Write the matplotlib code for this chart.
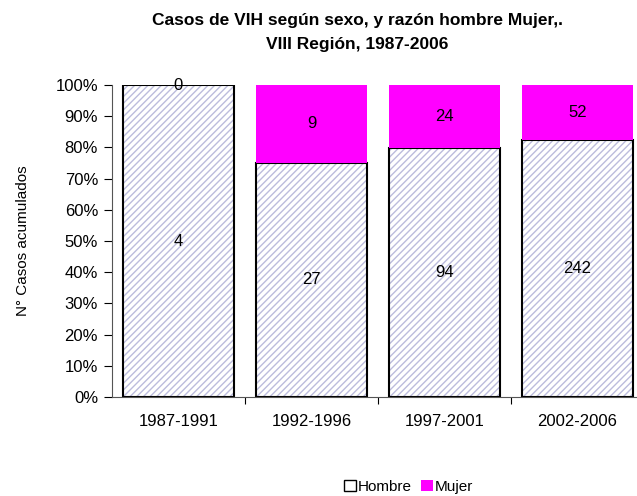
import numpy as np
import matplotlib.pyplot as plt
import matplotlib as mpl

plt.rcParams['font.family'] = ['Liberation Sans', 'DejaVu Sans']
mpl.rcParams['hatch.linewidth'] = 1.0

periodos = ['1987-1991', '1992-1996', '1997-2001', '2002-2006']
hombre = np.array([4, 27, 94, 242])
mujer = np.array([0, 9, 24, 52])

total = hombre + mujer
p_h = hombre / total * 100
p_m = mujer / total * 100

fig = plt.figure(figsize=(6.37, 4.96), dpi=100)
ax = fig.add_axes([112/637, 1-397/496, 532/637, 312/496])

x = np.arange(len(periodos))
w = 0.84
# hatch fill, then black outline on top
ax.bar(x, p_h, w, color='white', edgecolor='#bcbcdc', linewidth=0, hatch='/////')
ax.bar(x, p_h, w, color='none', edgecolor='black', linewidth=1.5)
ax.bar(x, p_m, w, bottom=p_h, color='#ff00ff', edgecolor='none')

for i in range(len(x)):
    ax.text(x[i], p_h[i]/2, str(hombre[i]), ha='center', va='center', fontsize=12)
    ax.text(x[i], p_h[i] + p_m[i]/2, str(mujer[i]), ha='center', va='center', fontsize=12)

ax.set_xlim(-0.5, len(x) - 0.5)
ax.set_ylim(0, 100)
ax.set_yticks(np.arange(0, 101, 10))
ax.set_yticklabels([f'{v}%' for v in range(0, 101, 10)], fontsize=12)
ax.set_xticks(x[:-1] + 0.5)
ax.set_xticklabels([])
ax.set_xticks(x, minor=True)
ax.set_xticklabels(periodos, minor=True, fontsize=12)
ax.tick_params(axis='x', which='minor', length=0, pad=12)
ax.tick_params(axis='x', which='major', length=5)
ax.tick_params(axis='y', length=6, pad=4)
ax.spines['top'].set_visible(False)
ax.spines['right'].set_visible(False)
ax.spines['left'].set_color('#555555')
ax.spines['bottom'].set_color('#555555')
ax.set_ylabel('N° Casos acumulados', fontsize=11, labelpad=18)

fig.text(357/637, 1-21/496, 'Casos de VIH según sexo, y razón hombre Mujer,.',
         ha='center', va='center', fontsize=12.5, fontweight='bold')
fig.text(357/637, 1-45/496, 'VIII Región, 1987-2006',
         ha='center', va='center', fontsize=12.5, fontweight='bold')

hh = [mpl.patches.Patch(facecolor='white', edgecolor='black'),
      mpl.patches.Patch(facecolor='#ff00ff', edgecolor='none')]
fig.legend(hh, ['Hombre', 'Mujer'], loc='center', bbox_to_anchor=(409/637, 1-487/496),
           ncol=2, frameon=False, fontsize=11, handlelength=0.75, handleheight=0.75,
           handletextpad=0.15, columnspacing=0.6)

fig.savefig('out.png', dpi=100)
